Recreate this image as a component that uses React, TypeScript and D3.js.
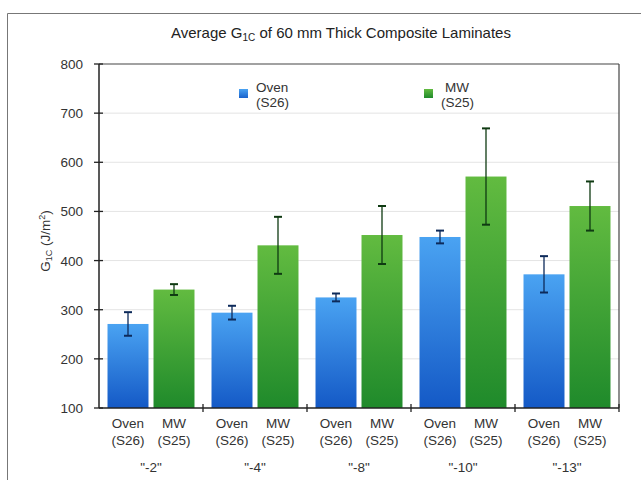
import React from "react";
import * as d3 from "d3";

const categories = ['"-2"', '"-4"', '"-8"', '"-10"', '"-13"'];
const seriesNames = ["Oven", "MW"];
const seriesSub = ["(S26)", "(S25)"];
const ovenValues = [271, 294, 325, 448, 372];
const ovenErrors = [24, 14, 8, 13, 37];
const mwValues = [341, 431, 452, 571, 511];
const mwErrors = [11, 58, 59, 98, 50];
const yTicks = [100, 200, 300, 400, 500, 600, 700, 800];

const W = 641;
const H = 480;
const FONT = "'Liberation Sans', Arial, Helvetica, sans-serif";
const FS = 13.5;

export default function App() {
  const left = 99, right = 619, top = 64, bottom = 408;
  const y = d3.scaleLinear().domain([100, 800]).range([bottom, top]);
  const x0 = d3.scaleBand<string>().domain(categories).range([left, right]).padding(0);
  const x1 = d3
    .scaleBand<string>()
    .domain(seriesNames)
    .range([0, x0.bandwidth()])
    .paddingInner(0.109)
    .paddingOuter(0.185);

  const series = [
    { name: "Oven", values: ovenValues, errors: ovenErrors, grad: "gBlue", errColor: "#0d2a5a" },
    { name: "MW", values: mwValues, errors: mwErrors, grad: "gGreen", errColor: "#0f3a12" },
  ];

  return (
    <svg width={W} height={H} style={{ display: "block", position: "absolute", left: 0, top: 0 }} fontFamily={FONT}>
      <defs>
        <linearGradient id="gBlue" x1="0" y1="0" x2="0" y2="1">
          <stop offset="0" stopColor="#4aa3f2" />
          <stop offset="1" stopColor="#1459c6" />
        </linearGradient>
        <linearGradient id="gGreen" x1="0" y1="0" x2="0" y2="1">
          <stop offset="0" stopColor="#62bb40" />
          <stop offset="1" stopColor="#1f8a2b" />
        </linearGradient>
        <linearGradient id="gBlueL" x1="0" y1="0" x2="0" y2="1">
          <stop offset="0" stopColor="#4aa3f2" />
          <stop offset="1" stopColor="#1a62cc" />
        </linearGradient>
      </defs>
      <rect x={0} y={0} width={W} height={H} fill="#fff" />
      {/* outer frame */}
      <line x1={7.5} y1={13.5} x2={W} y2={13.5} stroke="#777" strokeWidth={1} />
      <line x1={7.5} y1={13.5} x2={7.5} y2={H} stroke="#777" strokeWidth={1} />

      {/* title */}
      <text x={341} y={38} textAnchor="middle" fontSize={15} fill="#222">
        Average G<tspan fontSize={10} dy={3}>1C</tspan>
        <tspan dy={-3}> of 60 mm Thick Composite Laminates</tspan>
      </text>

      {/* gridlines */}
      {yTicks.slice(1, -1).map((t) => (
        <line key={t} x1={left} x2={right} y1={y(t)} y2={y(t)} stroke="#e4e4e4" strokeWidth={1} />
      ))}

      {/* bars */}
      {categories.map((c, i) =>
        series.map((s) => {
          const bx = (x0(c) as number) + (x1(s.name) as number);
          const bw = x1.bandwidth();
          return (
            <rect key={c + s.name} x={bx} y={y(s.values[i])} width={bw} height={bottom - y(s.values[i])} fill={`url(#${s.grad})`} />
          );
        })
      )}

      {/* error bars */}
      {categories.map((c, i) =>
        series.map((s) => {
          const cx = (x0(c) as number) + (x1(s.name) as number) + x1.bandwidth() / 2;
          const hi = y(s.values[i] + s.errors[i]);
          const lo = y(s.values[i] - s.errors[i]);
          return (
            <g key={"e" + c + s.name} stroke={s.errColor} strokeWidth={1.3}>
              <line x1={cx} x2={cx} y1={hi} y2={lo} />
              <line x1={cx - 4} x2={cx + 4} y1={hi} y2={hi} strokeWidth={2} />
              <line x1={cx - 4} x2={cx + 4} y1={lo} y2={lo} strokeWidth={2} />
            </g>
          );
        })
      )}

      {/* plot frame */}
      <line x1={left} x2={right} y1={top} y2={top} stroke="#444" strokeWidth={1.2} />
      <line x1={right} x2={right} y1={top} y2={bottom} stroke="#444" strokeWidth={1.2} />
      <line x1={left} x2={left} y1={top} y2={bottom} stroke="#222" strokeWidth={1.5} />
      <line x1={left} x2={right} y1={bottom} y2={bottom} stroke="#222" strokeWidth={1.5} />

      {/* y ticks */}
      {yTicks.map((t) => (
        <g key={"yt" + t}>
          <line x1={left - 5} x2={left + 4} y1={y(t)} y2={y(t)} stroke="#222" strokeWidth={1.3} />
          <text x={83} y={y(t) + 5} textAnchor="end" fontSize={FS} fill="#333">
            {t}
          </text>
        </g>
      ))}

      {/* x ticks */}
      {categories.map((c, i) =>
        i === 0 ? null : (
          <line key={"xt" + c} x1={x0(c)} x2={x0(c)} y1={bottom - 4} y2={bottom + 4} stroke="#222" strokeWidth={1.3} />
        )
      )}
      <line x1={right} x2={right} y1={bottom - 4} y2={bottom + 4} stroke="#222" strokeWidth={1.3} />

      {/* x labels */}
      {categories.map((c) => (
        <g key={"xl" + c}>
          {seriesNames.map((s, j) => {
            const cx = (x0(c) as number) + (x1(s) as number) + x1.bandwidth() / 2;
            return (
              <g key={s}>
                <text x={cx} y={428} textAnchor="middle" fontSize={FS} fill="#333">
                  {s}
                </text>
                <text x={cx} y={445} textAnchor="middle" fontSize={FS} fill="#333">
                  {seriesSub[j]}
                </text>
              </g>
            );
          })}
          <text x={(x0(c) as number) + x0.bandwidth() / 2} y={472} textAnchor="middle" fontSize={FS} fill="#333">
            {c}
          </text>
        </g>
      ))}

      {/* y label */}
      <text transform={`translate(50,241) rotate(-90)`} textAnchor="middle" fontSize={FS} fill="#333">
        G<tspan fontSize={9} dy={2}>1C</tspan>
        <tspan dy={-2}> (J/m</tspan>
        <tspan fontSize={9} dy={-5}>2</tspan>
        <tspan dy={5}>)</tspan>
      </text>

      {/* legend */}
      <rect x={239} y={89} width={9} height={9} fill="url(#gBlueL)" />
      <text x={256} y={92} fontSize={FS} fill="#333">Oven</text>
      <text x={256} y={107} fontSize={FS} fill="#333">(S26)</text>
      <rect x={424} y={89} width={9} height={9} fill="url(#gGreen)" />
      <text x={445} y={92} fontSize={FS} fill="#333">MW</text>
      <text x={441} y={107} fontSize={FS} fill="#333">(S25)</text>
    </svg>
  );
}
